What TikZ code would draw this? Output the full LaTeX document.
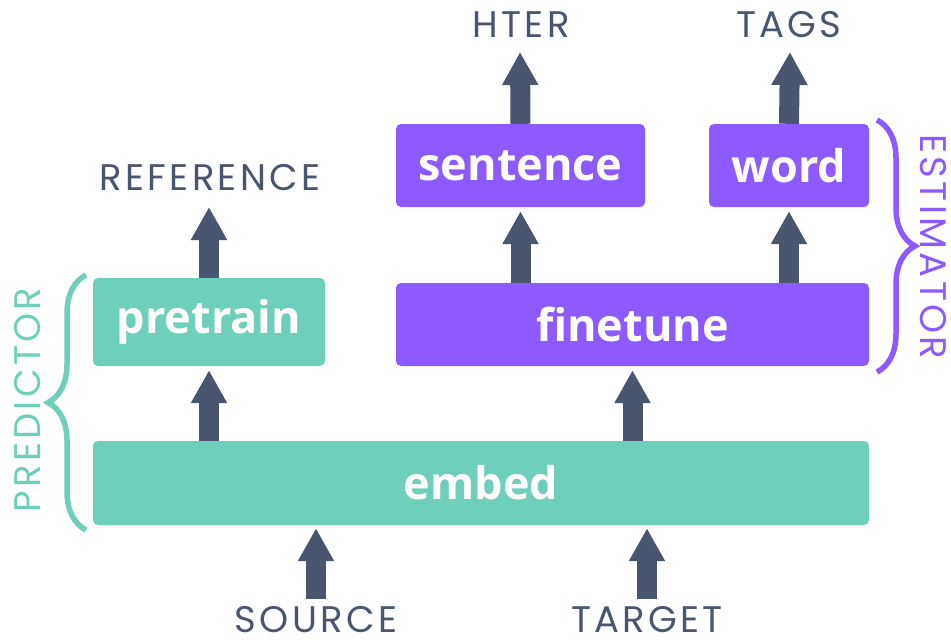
\documentclass[tikz,border=0pt]{standalone}
\usepackage{fontspec}
\setmainfont{Open Sans}
\newfontfamily\labfont[LetterSpace=9]{Poppins}
\newfontfamily\boxfont{Open Sans}
\usetikzlibrary{arrows.meta,decorations.pathreplacing}
\definecolor{teal1}{RGB}{110,207,186}
\definecolor{purp1}{RGB}{140,90,255}
\definecolor{dark1}{RGB}{74,85,112}
\tikzset{
  x=1pt,y=-1pt,
  blk/.style={rectangle,rounded corners=5pt,inner sep=0pt,text=white,font=\boxfont\bfseries\fontsize{45}{45}\selectfont},
  tbox/.style={blk,fill=teal1},
  pbox/.style={blk,fill=purp1},
  lab/.style={inner sep=0pt,text=dark1,font=\labfont\fontsize{37}{37}\selectfont},
  fat/.style={draw=dark1,line width=20pt,line cap=butt,-{Triangle[width=34pt,length=33pt]}},
  brc/.style={decorate,decoration={brace,amplitude=38pt},line width=5.5pt}
}
\begin{document}
\begin{tikzpicture}
\useasboundingbox (0,0) rectangle (951,640);
% boxes
\node[tbox,minimum width=776pt,minimum height=84pt] (embed) at (481,483) {embed};
\node[tbox,minimum width=232pt,minimum height=88pt] (pretrain) at (209,322) {pretrain};
\node[pbox,minimum width=473pt,minimum height=83pt] (finetune) at (632.5,324.5) {finetune};
\node[pbox,minimum width=249pt,minimum height=83pt] (sentence) at (520.5,165.5) {sentence};
\node[pbox,minimum width=160pt,minimum height=83pt] (word) at (789,165.5) {word};
% labels
\node[lab] (ref) at (210,178) {REFERENCE};
\node[lab] (hter) at (521,25) {HTER};
\node[lab] (tags) at (789,25) {TAGS};
\node[lab,anchor=base,text depth=0pt] (src) at (316,632) {SOURCE};
\node[lab,anchor=base,text depth=0pt] (tgt) at (647,632) {TARGET};
\node[lab,text=teal1,rotate=90] (pred) at (28,400) {PREDICTOR};
\node[lab,text=purp1,rotate=-90] (est) at (933,247) {ESTIMATOR};
% arrow ends
\coordinate (refTip) at (209,207);
\coordinate (hterTip) at (520,52);
\coordinate (tagsTip) at (790,52);
\coordinate (srcBase) at (316,599);
\coordinate (tgtBase) at (647,599);
% arrows
\draw[fat] (pretrain.north) -- (refTip);
\draw[fat] (embed.north -| pretrain) -- ([yshift=-4pt]pretrain.south);
\draw[fat] (embed.north -| finetune) -- ([yshift=-4pt]finetune.south);
\draw[fat] (finetune.north -| sentence) -- ([yshift=-4pt]sentence.south);
\draw[fat] (finetune.north -| word) -- ([yshift=-4pt]word.south);
\draw[fat] (sentence.north) -- (hterTip);
\draw[fat] (word.north) -- (tagsTip);
\draw[fat] (srcBase) -- ([yshift=-3pt]embed.south -| srcBase);
\draw[fat] (tgtBase) -- ([yshift=-3pt]embed.south -| tgtBase);
% braces
\coordinate (pb1) at (86,530);
\coordinate (pb2) at (86,275);
\coordinate (eb1) at (877,120);
\coordinate (eb2) at (877,372);
\draw[brc,draw=teal1] (pb1) -- (pb2);
\draw[brc,draw=purp1] (eb1) -- (eb2);
\end{tikzpicture}
\end{document}
